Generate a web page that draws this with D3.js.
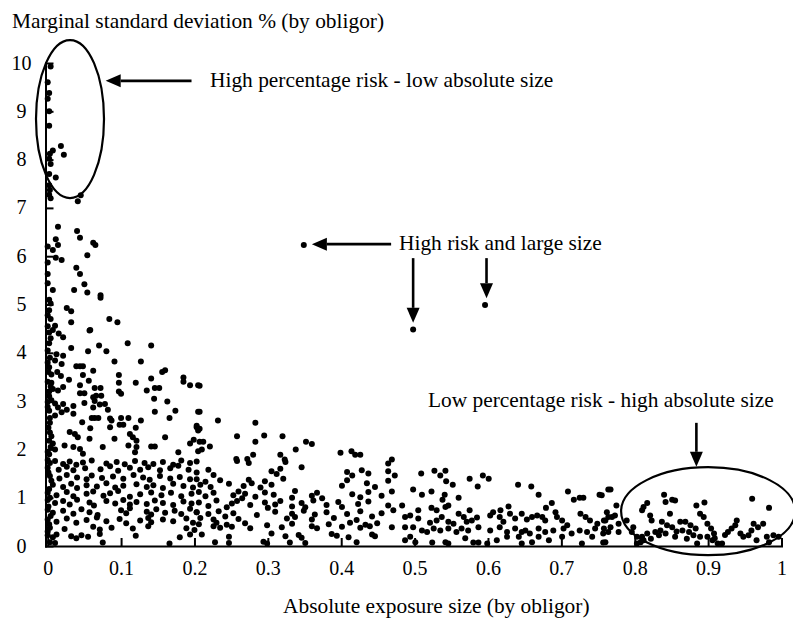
<!DOCTYPE html>
<html><head><meta charset="utf-8">
<script src="https://cdn.jsdelivr.net/npm/d3@7"></script>
<style>
body{margin:0;background:#fff}
svg{display:block}
text{font-family:"Liberation Serif","Times New Roman",serif;fill:#000}
</style>
</head><body>
<svg id="chart" width="793" height="618"></svg>
<script>
// ---------- axis ticks ----------
const xTickValues = [0,0.1,0.2,0.3,0.4,0.5,0.6,0.7,0.8,0.9,1];
const xTickLabels = ["0","0.1","0.2","0.3","0.4","0.5","0.6","0.7","0.8","0.9","1"];
const yTickValues = [0,1,2,3,4,5,6,7,8,9,10];
const yTickLabels = ["0","1","2","3","4","5","6","7","8","9","10"];

const yAxisTitle = "Marginal standard deviation % (by obligor)";
const xAxisTitle = "Absolute exposure size (by obligor)";
const noteHighPct = "High percentage risk - low absolute size";
const noteHighRisk = "High risk and large size";
const noteLowPct = "Low percentage risk - high absolute size";

// ---------- data: [exposure, marginal st.dev %] ----------
const ellipseCluster = [
 [0.004,9.93],[0.0,9.6],[0.002,9.38],[0.0,9.26],[0.002,9.0],[0.002,8.7],[0.007,8.19],[0.018,8.28],[0.022,8.1],
 [0.003,8.12],[0.002,8.02],[0.004,7.91],[0.002,7.7],[0.011,7.63],[0.002,7.47],[0.003,7.37],[0.002,7.27],[0.004,7.2],
 [0.045,7.26],[0.041,7.14]
];
const steepBand = [
 [0.014,6.61],[0.04,6.52],[0.044,6.38],[0.062,6.28],[0.065,6.23],[0.011,6.35],[0.014,6.23],[0.007,6.13],[0.0,6.2],
 [0.011,5.97],[0.019,5.92],[0.054,6.02],[0.0,5.87],[0.039,5.76],[0.044,5.63],[0.0,5.63],[0.0,5.44],[0.05,5.42],
 [0.007,5.3],[0.036,5.3],[0.054,5.25],[0.072,5.19],[0.072,5.14],[0.002,5.1],[0.004,5.02],[0.026,4.93],[0.032,4.86],
 [0.002,4.88],[0.0,4.78],[0.004,4.7],[0.032,4.63],[0.084,4.7],[0.095,4.63],[0.0,4.55],[0.01,4.56],[0.007,4.47],
 [0.058,4.47],[0.002,4.42],[0.057,4.46],[0.021,4.32],[0.015,4.4],[0.109,4.2],[0.07,4.15],[0.141,4.15],[0.055,4.03],
 [0.08,4.03],[0.032,4.1],[0.012,3.97],[0.021,3.94],[0.01,3.84],[0.091,3.82],[0.127,3.82],[0.0,3.8],[0.002,3.7],
 [0.019,3.77],[0.039,3.72],[0.044,3.72],[0.048,3.72],[0.062,3.63],[0.013,3.6],[0.16,3.64],[0.156,3.6],[0.097,3.54],
 [0.048,3.54],[0.005,3.55],[0.018,3.52],[0.185,3.49],[0.185,3.4],[0.029,3.44],[0.141,3.47],[0.0,3.4],[0.005,3.38],
 [0.097,3.38],[0.12,3.38],[0.194,3.33],[0.205,3.33],[0.056,3.42],[0.044,3.33],[0.021,3.29],[0.014,3.22],[0.007,3.25],
 [0.064,3.27],[0.072,3.27],[0.097,3.2],[0.1,3.15],[0.135,3.22],[0.146,3.27],[0.152,3.27],[0.044,3.16],[0.05,3.16],
 [0.066,3.11],[0.073,3.11],[0.062,3.08],[0.002,3.1],[0.005,3.02],[0.0,2.98],[0.01,2.95],[0.145,3.05],[0.163,2.99],
 [0.05,2.96],[0.064,3.0],[0.071,2.93],[0.062,2.87],[0.021,2.94],[0.014,2.87],[0.026,2.82],[0.019,2.77],[0.035,2.9],
 [0.078,2.94],[0.082,2.82],[0.002,2.8],[0.146,2.78],[0.174,2.8],[0.205,2.78],[0.01,2.7],[0.003,2.65],[0.035,2.74],
 [0.064,2.65],[0.069,2.65],[0.085,2.64],[0.087,2.6],[0.1,2.65],[0.11,2.65],[0.127,2.6],[0.166,2.65],[0.047,2.56],
 [0.06,2.65],[0.098,2.51],[0.103,2.51],[0.085,2.46],[0.12,2.45],[0.058,2.44],[0.203,2.46],[0.205,2.39],[0.003,2.35],
 [0.005,2.27],[0.002,2.18],[0.007,2.12],[0.03,2.36],[0.037,2.32],[0.041,2.25],[0.112,2.32],[0.116,2.25],[0.121,2.18],
 [0.057,2.22],[0.091,2.22],[0.16,2.25],[0.194,2.12],[0.199,2.2],[0.023,2.08],[0.035,2.05],[0.044,2.01],[0.048,1.91],
 [0.075,2.05],[0.11,2.08],[0.121,2.05],[0.119,1.94],[0.141,2.06],[0.146,2.06],[0.178,1.94],[0.205,1.96],[0.01,2.0],
 [0.0,1.95],[0.001,3.6],[0.003,3.9],[0.0,4.05],[0.002,4.2],[0.004,4.3],[0.002,3.2],[0.004,3.3],[0.0,2.88],[0.001,2.45],
 [0.003,2.55],[0.004,2.05],[0.002,1.9]
];
const denseBase = [
 [0,1.78],[0.003,1.72],[0.01,1.76],[0.021,1.7],[0.03,1.75],[0.039,1.68],[0.048,1.73],[0.06,1.77],[0.08,1.71],[0.094,1.74],
 [0.105,1.69],[0.119,1.76],[0.132,1.72],[0.144,1.7],[0.157,1.74],[0.171,1.68],[0.182,1.77],[0.194,1.72],[0.203,1.75],
 [0,1.62],[0.015,1.58],[0.026,1.64],[0.035,1.57],[0.051,1.61],[0.072,1.59],[0.085,1.65],[0.096,1.56],[0.112,1.62],
 [0.126,1.58],[0.137,1.63],[0.153,1.57],[0.167,1.61],[0.178,1.66],[0.192,1.58],
 [0.003,1.45],[0.016,1.4],[0.026,1.47],[0.04,1.42],[0.053,1.38],[0.06,1.46],[0.074,1.41],[0.089,1.44],[0.103,1.39],
 [0.117,1.47],[0.13,1.42],[0.139,1.37],[0.153,1.45],[0.167,1.4],[0.18,1.43],[0.194,1.38],
 [0.007,1.27],[0.021,1.22],[0.032,1.29],[0.04,1.2],[0.053,1.26],[0.067,1.23],[0.08,1.3],[0.092,1.21],[0.103,1.25],
 [0.121,1.28],[0.135,1.22],[0.144,1.26],[0.157,1.2],[0.171,1.29],[0.185,1.24],[0.198,1.21],
 [0,1.1],[0.012,1.05],[0.026,1.12],[0.035,1.03],[0.053,1.08],[0.062,1.13],[0.076,1.04],[0.085,1.09],[0.096,1.14],
 [0.112,1.02],[0.126,1.07],[0.141,1.11],[0.155,1.05],[0.168,1.1],[0.182,1.03],[0.196,1.08],
 [0,0.95],[0.01,0.89],[0.021,0.93],[0.03,0.86],[0.04,0.96],[0.057,0.9],[0.063,0.84],[0.08,0.93],[0.092,0.88],[0.103,0.95],
 [0.112,0.86],[0.121,0.91],[0.135,0.87],[0.146,0.94],[0.157,0.89],[0.171,0.85],[0.185,0.92],[0.196,0.88],
 [0,0.75],[0.007,0.69],[0.021,0.73],[0.035,0.67],[0.046,0.76],[0.057,0.7],[0.068,0.64],[0.1,0.74],[0.107,0.68],[0.112,0.78],
 [0.135,0.71],[0.141,0.65],[0.148,0.76],[0.16,0.69],[0.173,0.73],[0.182,0.66],[0.194,0.77],[0.203,0.7],
 [0,0.55],[0.012,0.5],[0.026,0.57],[0.039,0.48],[0.053,0.54],[0.067,0.59],[0.08,0.51],[0.098,0.56],[0.107,0.47],
 [0.126,0.53],[0.137,0.58],[0.141,0.49],[0.157,0.55],[0.171,0.51],[0.189,0.57],[0.198,0.48],
 [0.003,0.38],[0.023,0.35],[0.062,0.4],[0.071,0.34],[0.087,0.38],[0.116,0.36],[0.137,0.41],[0.189,0.37],[0.2,0.33],
 [0,0.22],[0.007,0.18],[0.012,0.24],[0.032,0.2],[0.039,0.16],[0.046,0.22],[0.055,0.19],[0.071,0.25],[0.12,0.21],
 [0.18,0.18],[0.194,0.24],[0.003,0.08],[0.01,0.06],[0.075,0.07],[0.166,0.05],
 [0,0.3],[0.002,0.45],[0.004,0.62],[0.001,0.82],[0.003,1.0],[0.002,1.18],[0.005,1.35],[0.001,1.52]
];
const midBand = [
 [0.207,3.32],[0.207,2.78],[0.203,2.49],[0.207,2.43],[0.232,2.6],[0.283,2.55],[0.258,2.27],[0.295,2.29],[0.32,2.27],
 [0.283,2.16],[0.207,2.16],[0.212,2.16],[0.21,2.0],[0.221,2.06],[0.352,2.16],[0.36,2.11],[0.338,2.0],[0.399,1.93],
 [0.414,1.96],[0.419,1.89],[0.426,1.89],[0.28,1.89],[0.317,1.89],[0.257,1.8],[0.272,1.8],[0.323,1.79],
 [0.258,1.76],[0.274,1.72],[0.324,1.74],[0.464,1.71],[0.346,1.63],
 [0.203,1.52],[0.219,1.58],[0.226,1.47],[0.305,1.55],[0.312,1.49],[0.317,1.6],[0.408,1.53],[0.415,1.46],[0.428,1.57],
 [0.437,1.5],[0.464,1.55],
 [0.203,1.38],[0.208,1.27],[0.215,1.33],[0.222,1.22],[0.235,1.36],[0.247,1.29],[0.267,1.24],[0.274,1.37],[0.278,1.3],
 [0.29,1.21],[0.296,1.34],[0.305,1.27],[0.321,1.39],[0.401,1.25],[0.408,1.36],[0.435,1.3],[0.446,1.22],[0.464,1.35],
 [0.206,1.12],[0.215,1.03],[0.226,1.1],[0.253,1.05],[0.26,1.13],[0.265,0.99],[0.269,1.08],[0.283,1.02],[0.296,1.11],
 [0.308,1.06],[0.333,1.0],[0.337,1.14],[0.36,1.04],[0.367,1.1],[0.374,0.99],[0.415,1.07],[0.426,1.01],[0.437,1.12],[0.455,1.04],
 [0.206,0.9],[0.219,0.83],[0.23,0.94],[0.244,0.8],[0.251,0.88],[0.258,0.93],[0.276,0.85],[0.296,0.9],[0.3,0.79],
 [0.31,0.86],[0.317,0.93],[0.333,0.82],[0.346,0.89],[0.351,0.8],[0.362,0.94],[0.38,0.85],[0.396,0.91],[0.401,0.81],
 [0.423,0.87],[0.437,0.92],[0.464,0.84],
 [0.203,0.7],[0.208,0.58],[0.219,0.66],[0.226,0.55],[0.233,0.72],[0.242,0.61],[0.253,0.68],[0.26,0.56],[0.285,0.64],
 [0.31,0.71],[0.326,0.57],[0.333,0.67],[0.337,0.6],[0.349,0.73],[0.36,0.55],[0.364,0.65],[0.38,0.7],[0.39,0.58],
 [0.408,0.66],[0.421,0.54],[0.426,0.72],[0.442,0.61],[0.455,0.68],
 [0.206,0.45],[0.226,0.41],[0.23,0.48],[0.235,0.38],[0.244,0.44],[0.251,0.4],[0.269,0.47],[0.276,0.37],[0.299,0.43],
 [0.319,0.39],[0.333,0.46],[0.36,0.41],[0.367,0.37],[0.383,0.45],[0.401,0.4],[0.412,0.48],[0.426,0.38],[0.433,0.44],
 [0.439,0.41],[0.449,0.47],[0.469,0.39],
 [0.21,0.24],[0.247,0.19],[0.305,0.26],[0.324,0.2],[0.342,0.23],[0.346,0.17],[0.387,0.25],[0.394,0.21],[0.41,0.18],
 [0.442,0.24],[0.446,0.2],
 [0.228,0.08],[0.247,0.06],[0.294,0.09],[0.299,0.05],[0.33,0.07],[0.351,0.06],[0.421,0.08]
];
const tailBand = [
 [0.469,1.79],[0.473,1.46],[0.509,1.5],[0.527,1.56],[0.535,1.46],[0.542,1.56],[0.543,1.34],[0.552,1.27],[0.575,1.39],
 [0.593,1.46],[0.601,1.39],[0.586,1.23],[0.469,1.13],[0.498,1.17],[0.523,1.13],[0.51,1.06],[0.541,1.06],[0.538,0.96],
 [0.56,1.0],[0.641,1.27],[0.659,1.23],[0.669,1.06],[0.709,1.13],[0.717,0.96],[0.725,1.0],[0.73,1.0],[0.752,1.06],[0.764,1.17],
 [0.483,0.84],[0.471,0.74],[0.505,0.74],[0.523,0.79],[0.53,0.74],[0.542,0.81],[0.546,0.84],[0.575,0.74],[0.617,0.74],
 [0.628,0.82],[0.679,0.79],[0.687,0.89],[0.692,0.7],[0.726,0.67],[0.733,0.6],
 [0.487,0.6],[0.494,0.63],[0.505,0.57],[0.521,0.48],[0.53,0.53],[0.537,0.6],[0.546,0.5],[0.553,0.46],[0.56,0.67],
 [0.567,0.6],[0.571,0.5],[0.578,0.53],[0.585,0.59],[0.603,0.63],[0.607,0.7],[0.616,0.6],[0.621,0.5],[0.63,0.67],
 [0.637,0.57],[0.646,0.67],[0.653,0.55],[0.66,0.6],[0.667,0.63],[0.674,0.6],[0.678,0.53],[0.694,0.6],[0.701,0.53],
 [0.708,0.43],[0.739,0.53],[0.749,0.46],[0.758,0.53],[0.764,0.6],
 [0.487,0.39],[0.498,0.39],[0.51,0.32],[0.517,0.29],[0.526,0.36],[0.535,0.32],[0.546,0.36],[0.557,0.29],[0.564,0.36],
 [0.573,0.32],[0.587,0.39],[0.603,0.32],[0.616,0.39],[0.626,0.29],[0.637,0.36],[0.646,0.29],[0.651,0.32],[0.657,0.26],
 [0.669,0.36],[0.678,0.29],[0.689,0.32],[0.703,0.36],[0.714,0.26],[0.725,0.32],[0.735,0.29],[0.746,0.36],[0.757,0.26],[0.764,0.29],
 [0.487,0.12],[0.494,0.19],[0.501,0.08],[0.524,0.07],[0.542,0.08],[0.546,0.05],[0.569,0.16],[0.58,0.07],[0.587,0.07],
 [0.599,0.05],[0.612,0.12],[0.626,0.19],[0.642,0.19],[0.646,0.05],[0.66,0.08],[0.669,0.19],[0.683,0.12],[0.701,0.19],
 [0.728,0.05],[0.742,0.19],[0.757,0.07]
];
const largeExposure = [
 [0.767,1.17],[0.755,1.05],[0.775,0.84],[0.762,0.7],[0.773,0.63],[0.76,0.53],[0.769,0.6],[0.778,0.46],[0.767,0.39],
 [0.758,0.36],[0.778,0.29],[0.76,0.08],[0.789,0.53],[0.798,0.39],[0.796,0.29],[0.803,0.19],[0.808,0.08],[0.84,1.06],
 [0.817,0.89],[0.812,0.81],[0.81,0.74],[0.842,0.91],[0.851,0.96],[0.855,0.94],[0.884,0.84],[0.895,0.9],[0.96,0.98],
 [0.983,0.79],[0.821,0.63],[0.823,0.53],[0.848,0.67],[0.889,0.67],[0.894,0.6],
 [0.837,0.5],[0.844,0.43],[0.851,0.39],[0.835,0.32],[0.828,0.29],[0.842,0.26],[0.833,0.22],[0.817,0.26],[0.81,0.19],
 [0.822,0.15],[0.812,0.12],[0.803,0.05],
 [0.862,0.5],[0.869,0.5],[0.876,0.43],[0.865,0.32],[0.874,0.29],[0.883,0.36],[0.88,0.22],[0.889,0.19],[0.885,0.05],[0.871,0.15],
 [0.899,0.46],[0.904,0.36],[0.908,0.26],[0.906,0.12],[0.913,0.05],[0.919,0.05],[0.899,0.19],
 [0.927,0.29],[0.932,0.36],[0.939,0.53],[0.937,0.43],[0.944,0.26],[0.948,0.19],[0.955,0.22],[0.962,0.46],[0.959,0.32],
 [0.968,0.39],[0.975,0.46],[0.966,0.12],[0.98,0.19],[0.989,0.22],[0.996,0.19],[0.983,0.08],
 [0.855,0.19],[0.857,0.3],[0.909,0.16],[0.923,0.23]
];
const highlighted = [[0.349,6.23],[0.498,4.48],[0.596,4.99]];

// ---------- layout ----------
const svg = d3.select("#chart");
const x = d3.scaleLinear().domain([-0.003, 1]).range([45.5, 781.5]);
const y = d3.scaleLinear().domain([0, 10]).range([546, 63]);
const FONT = '"Liberation Serif","Times New Roman",serif';

// axes
const gx = svg.append("g").attr("transform", `translate(0,${y(0)})`)
  .call(d3.axisBottom(x).tickValues(xTickValues).tickFormat((d,i)=>xTickLabels[i])
        .tickSizeInner(-8).tickSizeOuter(0).tickPadding(15));
const gy = svg.append("g").attr("transform", `translate(${x.range()[0]},0)`)
  .call(d3.axisLeft(y).tickValues(yTickValues).tickFormat((d,i)=>yTickLabels[i])
        .tickSizeInner(-8).tickSizeOuter(0));
[gx, gy].forEach(g => {
  g.attr("font-family", FONT).attr("font-size", 20);
  g.select(".domain").attr("stroke", "#000").attr("stroke-width", 2).attr("stroke-linecap", "square");
  g.selectAll(".tick line").attr("stroke", "#000").attr("stroke-width", 2);
  g.selectAll(".tick text").attr("fill", "#000");
});
gy.selectAll(".tick text").attr("x", -24).attr("text-anchor", "middle").attr("dy", "0.3em");

// points
const allPoints = [].concat(ellipseCluster, steepBand, denseBase, midBand, tailBand, largeExposure, highlighted);
svg.append("g").selectAll("circle").data(allPoints).join("circle")
  .attr("cx", d => x(d[0])).attr("cy", d => y(d[1])).attr("r", 3).attr("fill", "#000");

// ellipses
const ann = svg.append("g").attr("fill", "none").attr("stroke", "#000").attr("stroke-width", 2.2);
ann.append("ellipse").attr("cx", x(0.0304)).attr("cy", y(8.84)).attr("rx", 34).attr("ry", 79);
ann.append("ellipse").attr("cx", x(0.9)).attr("cy", y(0.72)).attr("rx", 87).attr("ry", 44);

// arrows
function arrow(x1, y1, x2, y2) {
  const dx = x2 - x1, dy = y2 - y1, len = Math.hypot(dx, dy);
  const ux = dx / len, uy = dy / len, hl = 15, hw = 6.5;
  const bx = x2 - ux * hl, by = y2 - uy * hl;
  svg.append("line").attr("x1", x1).attr("y1", y1).attr("x2", bx).attr("y2", by)
    .attr("stroke", "#000").attr("stroke-width", 2.6);
  svg.append("polygon")
    .attr("points", [[x2, y2], [bx - uy * hw, by + ux * hw], [bx + uy * hw, by - ux * hw]].map(p => p.join(",")).join(" "))
    .attr("fill", "#000");
}
arrow(x(0.196), y(9.63), x(0.079), y(9.63));
arrow(x(0.468), y(6.25), x(0.36), y(6.25));
arrow(x(0.498), y(5.96), x(0.498), y(4.62));
arrow(x(0.598), y(5.96), x(0.598), y(5.13));
arrow(x(0.884), y(2.55), x(0.884), y(1.64));

// texts
function label(str, px, py) {
  svg.append("text").attr("x", px).attr("y", py).attr("font-family", FONT).attr("font-size", 21.4).text(str);
}
label(yAxisTitle, 12, 28);
label(noteHighPct, 210, 87);
label(noteHighRisk, 399, 250);
label(noteLowPct, 428, 407);
label(xAxisTitle, 283, 612.5);
</script>
</body></html>
